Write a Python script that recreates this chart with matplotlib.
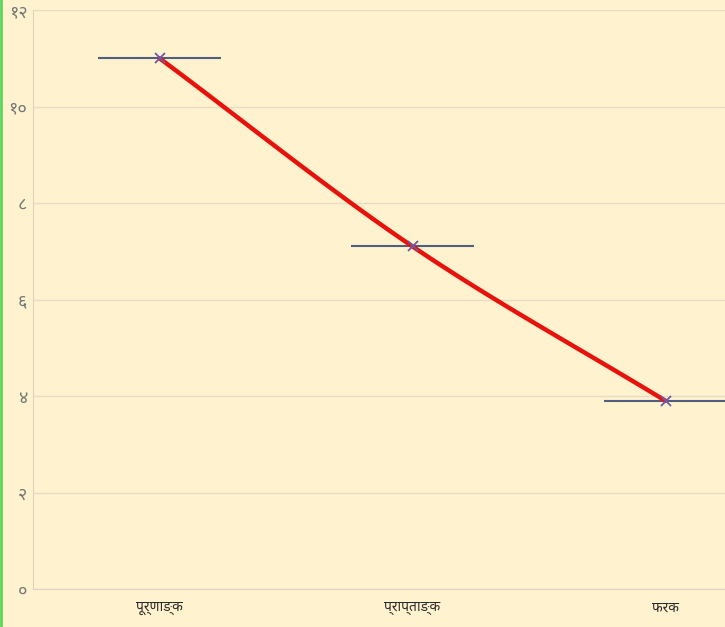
import numpy as np
import matplotlib
matplotlib.use("Agg")
import matplotlib.pyplot as plt
from matplotlib import font_manager as fm
from matplotlib.ft2font import FT2Font
from matplotlib.lines import Line2D

categories = ["पूर्णाङ्क", "प्राप्ताङ्क", "फरक"]
values = [11.0, 7.1, 3.9]
ytick_values = [0, 2, 4, 6, 8, 10, 12]
ytick_labels = ["०", "२", "४", "६", "८", "१०", "१२"]

# find a font with Devanagari glyphs (prefer Noto Sans Devanagari)
cands = []
for f in fm.fontManager.ttflist:
    try:
        ft = FT2Font(f.fname)
        if ft.get_char_index(0x0915) and ft.get_char_index(0x0966):
            cands.append(f.name)
    except Exception:
        pass
deva = None
for pref in ["Noto Sans Devanagari", "Lohit Devanagari", "Mukta"]:
    if pref in cands:
        deva = pref
        break
if deva is None and cands:
    deva = cands[0]
families = ([deva] if deva else []) + ["DejaVu Sans"]
plt.rcParams["font.family"] = families

bg = "#FFF2CE"
fig = plt.figure(figsize=(7.25, 6.27), dpi=100, facecolor=bg)
ax = fig.add_axes([33/725, 1 - 589/627, 759/725, (589 - 10)/627])
ax.set_facecolor(bg)

x = np.arange(len(categories))
y = np.array(values)

# Catmull-Rom smoothing (like a smoothed spreadsheet line)
px = np.concatenate([[2*x[0]-x[1]], x, [2*x[-1]-x[-2]]]).astype(float)
py = np.concatenate([[2*y[0]-y[1]], y, [2*y[-1]-y[-2]]])
xs, ys = [], []
t = np.linspace(0, 1, 60)
for i in range(1, len(px) - 2):
    p0, p1, p2, p3 = (np.array([px[j], py[j]]) for j in range(i-1, i+3))
    c1 = p1 + (p2 - p0) / 6
    c2 = p2 - (p3 - p1) / 6
    pts = ((1-t)**3)[:, None]*p1 + (3*(1-t)**2*t)[:, None]*c1 + (3*(1-t)*t**2)[:, None]*c2 + (t**3)[:, None]*p2
    xs.extend(pts[:, 0]); ys.extend(pts[:, 1])

for v in ytick_values:
    ax.axhline(v, color="#E8DCC4", lw=1, zorder=0)

ax.errorbar(x, y, xerr=0.245, fmt="none", ecolor="#4F5F7F", elinewidth=1.5, capsize=0, zorder=2)
ax.plot(xs, ys, color="#E8120C", lw=3.2, zorder=3, solid_capstyle="round")
ax.plot(x, y, linestyle="none", marker="x", color="#6A5AA8", ms=7, mew=1.3, zorder=4)

ax.set_xlim(-0.5, 2.5)
ax.set_ylim(0, 12)
ax.set_xticks(x)
ax.set_xticklabels(categories, fontsize=10, color="#2A2A2A")
ax.set_yticks(ytick_values)
ax.set_yticklabels(ytick_labels, fontsize=13, color="#777777")
ax.tick_params(axis="x", length=0, pad=8)
ax.tick_params(axis="y", length=0, pad=4)
for s in ["top", "right"]:
    ax.spines[s].set_visible(False)
ax.spines["left"].set_color("#DCD3C0")
ax.spines["bottom"].set_color("#DCD3C0")

fig.add_artist(Line2D([1/725, 1/725], [0, 1], transform=fig.transFigure, color="#5CD65C", lw=2))

fig.savefig("out.png", dpi=100, facecolor=bg)
